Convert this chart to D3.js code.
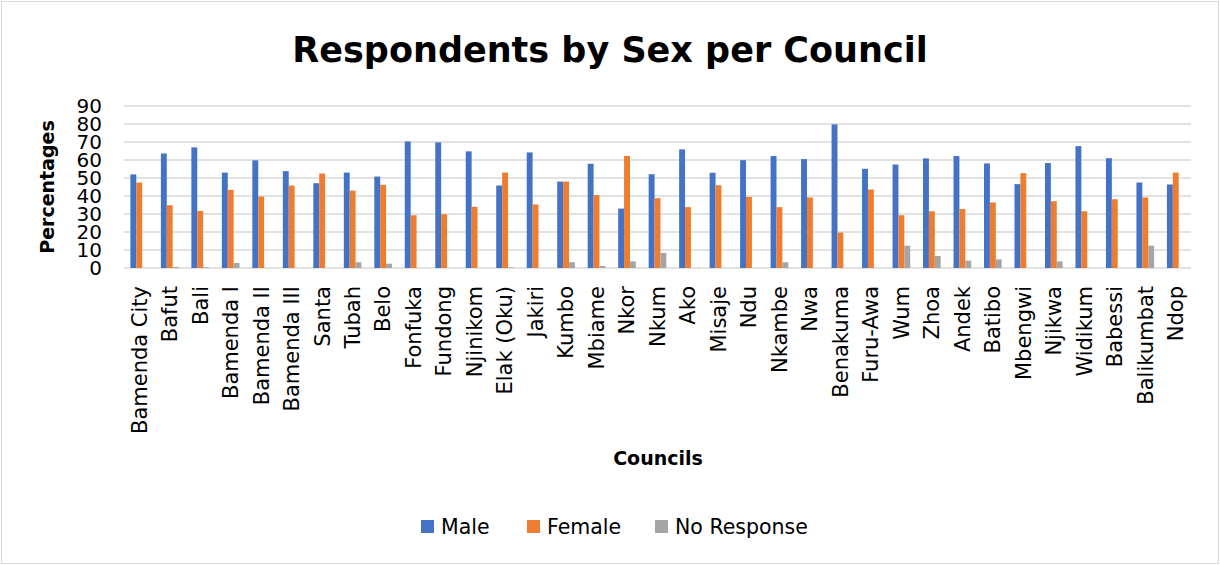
<!DOCTYPE html>
<html>
<head>
<meta charset="utf-8">
<script src="https://cdn.jsdelivr.net/npm/d3@7"></script>
<style>
  html, body { margin: 0; padding: 0; background: #fff; }
  svg { display: block; }
</style>
</head>
<body>
<svg id="chart" width="1220" height="565"></svg>
<script>
// Survey respondents by sex, per council (percentages)
const councils = ["Bamenda City","Bafut","Bali","Bamenda I","Bamenda II","Bamenda III","Santa","Tubah","Belo","Fonfuka","Fundong","Njinikom","Elak (Oku)","Jakiri","Kumbo","Mbiame","Nkor","Nkum","Ako","Misaje","Ndu","Nkambe","Nwa","Benakuma","Furu-Awa","Wum","Zhoa","Andek","Batibo","Mbengwi","Njikwa","Widikum","Babessi","Balikumbat","Ndop"];
const male       = [52,63.6,67,53,59.8,53.8,47.1,53,50.8,70.3,69.8,64.8,45.8,64.2,48,57.9,33,52.1,65.9,52.9,59.9,62.2,60.5,79.8,55.1,57.5,60.9,62.2,58.1,46.6,58.3,67.7,61,47.5,46.4];
const female     = [47.5,34.9,31.7,43.4,39.7,45.8,52.5,43,46.2,29.3,29.9,34,53,35.3,48,40.5,62.3,38.8,33.8,46,39.5,33.8,39.2,19.7,43.6,29.3,31.5,32.8,36.4,52.7,37.1,31.5,38.2,39.2,53];
const noResponse = [0,0.6,0.4,2.8,0,0,0,3.2,2.4,0,0,0,0.3,0,3.2,1.1,3.7,8.4,0,0,0,3.2,0,0,0,12.4,6.7,4.1,4.8,0,3.7,0,0,12.4,0];
const yTicks     = [0,10,20,30,40,50,60,70,80,90];
const seriesNames  = ["Male","Female","No Response"];
const seriesColors = ["#4472C4","#ED7D31","#A5A5A5"];

const seriesValues = [male, female, noResponse];
const rows = councils.map((c, i) => ({
  council: c,
  values: seriesNames.map((s, k) => ({ series: s, value: seriesValues[k][i] }))
}));

const svg = d3.select("#chart");
const W = 1220, H = 565;
const plot = { left: 124, right: 1191, top: 106, bottom: 268 };
const fontFamily = "'DejaVu Sans', sans-serif";

// chart frame
svg.append("rect")
  .attr("x", 1.5).attr("y", 1.5)
  .attr("width", W - 3).attr("height", H - 3)
  .attr("fill", "#fff").attr("stroke", "#D9D9D9").attr("stroke-width", 1);

const x = d3.scaleBand().domain(councils).range([plot.left, plot.right]).paddingInner(0).paddingOuter(0);
const groupWidth = x.bandwidth() * 0.58;
const xInner = d3.scaleBand().domain(seriesNames).range([0, groupWidth]);
const y = d3.scaleLinear().domain([0, 90]).range([plot.bottom, plot.top]);
const color = d3.scaleOrdinal().domain(seriesNames).range(seriesColors);

// horizontal gridlines
svg.append("g")
  .selectAll("line")
  .data(yTicks)
  .join("line")
  .attr("x1", plot.left).attr("x2", plot.right)
  .attr("y1", d => y(d)).attr("y2", d => y(d))
  .attr("stroke", "#D9D9D9").attr("stroke-width", 1.5);

// y axis labels
const yAxis = d3.axisLeft(y).tickValues(yTicks).tickSize(0).tickPadding(0);
const gy = svg.append("g").attr("transform", `translate(${plot.left - 22},0)`).call(yAxis);
gy.select(".domain").remove();
gy.selectAll("text")
  .attr("font-family", fontFamily).attr("font-size", 20).attr("fill", "#000");

// bars
const groups = svg.append("g")
  .selectAll("g")
  .data(rows)
  .join("g")
  .attr("transform", d => `translate(${x(d.council) + (x.bandwidth() - groupWidth) / 2},0)`);

groups.selectAll("rect")
  .data(d => d.values)
  .join("rect")
  .attr("x", d => xInner(d.series))
  .attr("width", xInner.bandwidth())
  .attr("y", d => y(d.value))
  .attr("height", d => y(0) - y(d.value))
  .attr("fill", d => color(d.series));

// x axis labels (rotated)
const xAxis = d3.axisBottom(x).tickSize(0).tickPadding(0);
const gx = svg.append("g").attr("transform", `translate(0,${plot.bottom})`).call(xAxis);
gx.select(".domain").remove();
gx.selectAll("text")
  .attr("font-family", fontFamily).attr("font-size", 21).attr("fill", "#000")
  .attr("transform", "rotate(-90)")
  .attr("text-anchor", "end")
  .attr("x", -18).attr("y", 0).attr("dy", "0.35em");

// title
svg.append("text")
  .attr("x", 610).attr("y", 62)
  .attr("text-anchor", "middle")
  .attr("font-family", fontFamily).attr("font-weight", "bold").attr("font-size", 35)
  .attr("fill", "#000")
  .text("Respondents by Sex per Council");

// axis titles
svg.append("text")
  .attr("transform", `translate(54,${(plot.top + plot.bottom) / 2}) rotate(-90)`)
  .attr("text-anchor", "middle")
  .attr("font-family", fontFamily).attr("font-weight", "bold").attr("font-size", 19)
  .attr("fill", "#000")
  .text("Percentages");

svg.append("text")
  .attr("x", 658).attr("y", 465)
  .attr("text-anchor", "middle")
  .attr("font-family", fontFamily).attr("font-weight", "bold").attr("font-size", 19)
  .attr("fill", "#000")
  .text("Councils");

// legend
const legendX = [421, 527, 655];
const legend = svg.append("g")
  .selectAll("g")
  .data(seriesNames)
  .join("g")
  .attr("transform", (d, i) => `translate(${legendX[i]},520)`);
legend.append("rect")
  .attr("width", 13).attr("height", 13)
  .attr("fill", d => color(d));
legend.append("text")
  .attr("x", 20).attr("y", 7).attr("dy", "0.35em")
  .attr("font-family", fontFamily).attr("font-size", 20.5).attr("fill", "#000")
  .text(d => d);
</script>
</body>
</html>
